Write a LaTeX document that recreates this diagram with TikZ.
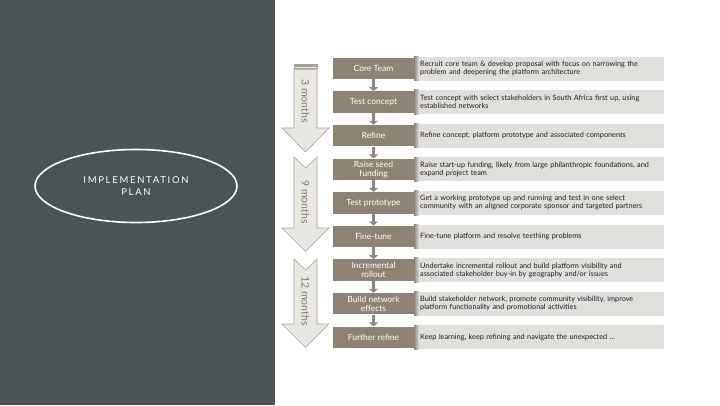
\documentclass[tikz,border=0pt]{standalone}
\usepackage{fontspec}
\setmainfont{Lato}
\newfontfamily\spacedfont[LetterSpace=18]{Lato}
\usetikzlibrary{shapes.geometric,arrows.meta}

\definecolor{panelgray}{RGB}{74,84,86}
\definecolor{stagebrown}{RGB}{140,131,116}
\definecolor{notegray}{RGB}{225,223,220}
\definecolor{notetext}{RGB}{30,30,30}
\definecolor{spanfill}{RGB}{233,231,225}
\definecolor{spanline}{RGB}{168,163,153}
\definecolor{spantext}{RGB}{130,122,108}
\definecolor{flowgray}{RGB}{140,137,132}

\tikzset{
  stage/.style={fill=stagebrown, text=white, minimum width=81pt, minimum height=21.5pt,
    inner sep=1pt, align=center, font=\fontsize{8.5}{9}\selectfont},
  note/.style={fill=notegray, text=notetext, anchor=west, minimum width=250pt,
    minimum height=24pt, text width=238pt, inner xsep=6pt, inner ysep=0pt, align=left,
    font=\fontsize{7.3}{8.1}\selectfont},
  span/.style={fill=spanfill, draw=spanline, line width=0.6pt},
  spanlabel/.style={rotate=-90, text=spantext, font=\fontsize{10.5}{10.5}\selectfont},
  flow/.style={draw=flowgray, line width=3pt, -{Triangle[width=9pt,length=4pt]}}
}

\begin{document}
\begin{tikzpicture}[x=1pt, y=-1pt]
    \useasboundingbox (0,0) rectangle (720,405);
    \fill[white] (0,0) rectangle (720,405);
    \fill[panelgray] (0,0) rectangle (275,405);
    \node[ellipse, draw=white, line width=1.6pt, minimum width=202pt, minimum height=73pt,
        text=white, align=center, font=\spacedfont\fontsize{9.5}{12}\selectfont]
        (plan) at (136,186) {IMPLEMENTATION\\PLAN};

    % time spans
    \draw[span] (294,64) rectangle (317,65.6);
    \draw[span] (294,66.6) rectangle (317,68.2);
    \draw[span] (294,69.2) -- (317,69.2) -- (317,128) -- (329,128) -- (305.5,152)
        -- (282,128) -- (294,128) -- cycle;
    \draw[span] (294,157) -- (305.5,168) -- (317,157) -- (317,228) -- (329,228)
        -- (305.5,251.5) -- (282,228) -- (294,228) -- cycle;
    \draw[span] (294,259) -- (305.5,270) -- (317,259) -- (317,324) -- (329,324)
        -- (305.5,347.5) -- (282,324) -- (294,324) -- cycle;
    \node[spanlabel] (m1) at (305.5,101) {3 months};
    \node[spanlabel] (m2) at (305.5,202) {9 months};
    \node[spanlabel] (m3) at (305.5,301) {12 months};

    \foreach \i/\stagename/\notetext in {
        1/{Core Team}/{Recruit core team \& develop proposal with focus on narrowing the\\problem and deepening the platform architecture},
        2/{Test concept}/{Test concept with select stakeholders in South Africa first up, using\\established networks},
        3/{Refine}/{Refine concept, platform prototype and associated components},
        4/{Raise seed\\funding}/{Raise start-up funding, likely from large philanthropic foundations, and\\expand project team},
        5/{Test prototype}/{Get a working prototype up and running and test in one select\\community with an aligned corporate sponsor and targeted partners},
        6/{Fine-tune}/{Fine-tune platform and resolve teething problems},
        7/{Incremental\\rollout}/{Undertake incremental rollout and build platform visibility and\\associated stakeholder buy-in by geography and/or issues},
        8/{Build network\\effects}/{Build stakeholder network, promote community visibility, improve\\platform functionality and promotional activities},
        9/{Further refine}/{Keep learning, keep refining and navigate the unexpected \dots}}
    {
        \node[stage] (s\i) at (373.5,{68.5+33.6*(\i-1)}) {\stagename};
        \node[note] (d\i) at (414,{68.5+33.6*(\i-1)}) {\notetext};
        \shade[left color=stagebrown, right color=notegray]
            (d\i.south west) rectangle ([xshift=5pt]d\i.north west);
    }

    \foreach \i [evaluate=\i as \j using int(\i+1)] in {1,...,8}
        \draw[flow] (s\i) -- (s\j);
\end{tikzpicture}
\end{document}
